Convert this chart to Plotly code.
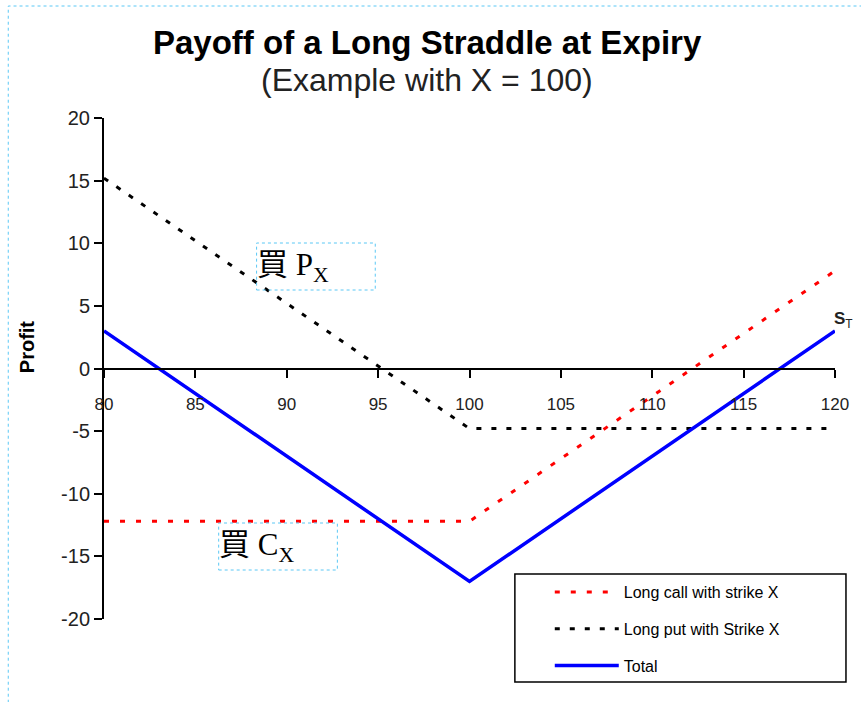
import plotly.graph_objects as go

# Data (key points of each piecewise-linear payoff)
stock_price = [80, 100, 120]
long_call = [-12.2, -12.2, 7.8]
long_put = [15.2, -4.8, -4.8]
total = [3.0, -17.0, 3.0]

x_ticks = [80, 85, 90, 95, 100, 105, 110, 115, 120]
y_ticks = [-20, -15, -10, -5, 0, 5, 10, 15, 20]

title_text = "Payoff of a Long Straddle at Expiry"
subtitle_text = "(Example with X = 100)"
series_names = ["Long call with strike X", "Long put with Strike X", "Total"]

W, H = 861, 702
L, R, T, B = 104, 837, 118, 619


def px(xp):
    return (xp - L) / (R - L)


def py(yp):
    return (B - yp) / (B - T)


SANS = "Liberation Sans, Arial, sans-serif"
SERIF = "Liberation Serif, Times New Roman, Noto Sans CJK TC, serif"

fig = go.Figure()
fig.add_trace(go.Scatter(
    x=stock_price, y=long_call, mode="lines", name=series_names[0],
    legendgroup="a", line=dict(color="#FF0000", width=3, dash="5px,11px")))
fig.add_trace(go.Scatter(
    x=stock_price, y=long_put, mode="lines", name=series_names[1],
    legendgroup="b", line=dict(color="#000000", width=3, dash="5px,10px")))
fig.add_trace(go.Scatter(
    x=stock_price, y=total, mode="lines", name=series_names[2],
    legendgroup="c", line=dict(color="#0000FF", width=3.5)))

shapes = [
    # outer slide placeholder border
    dict(type="rect", xref="paper", yref="paper",
         x0=px(8), x1=px(875), y0=py(715), y1=py(6),
         line=dict(color="#5BC8F5", width=1, dash="dot"), layer="below"),
    # legend box
    dict(type="rect", xref="paper", yref="paper",
         x0=px(516), x1=px(848), y0=py(682), y1=py(574),
         line=dict(color="#000000", width=1.5)),
    # text boxes
    dict(type="rect", xref="paper", yref="paper",
         x0=px(257), x1=px(376), y0=py(290), y1=py(243),
         line=dict(color="#5BC8F5", width=1, dash="dot")),
    dict(type="rect", xref="paper", yref="paper",
         x0=px(219), x1=px(338), y0=py(570), y1=py(523),
         line=dict(color="#5BC8F5", width=1, dash="dot")),
]

annotations = [
    dict(text="<b>" + title_text + "</b>", xref="paper", yref="paper",
         x=px(428), y=py(42), xanchor="center", yanchor="middle", showarrow=False,
         font=dict(family=SANS, size=33, color="#000000")),
    dict(text=subtitle_text, xref="paper", yref="paper",
         x=px(428), y=py(80), xanchor="center", yanchor="middle", showarrow=False,
         font=dict(family=SANS, size=32, color="#222222")),
    dict(text="<b>Profit</b>", xref="paper", yref="paper",
         x=px(27), y=py(347), xanchor="center", yanchor="middle",
         showarrow=False, textangle=-90,
         font=dict(family=SANS, size=20, color="#000000")),
    dict(text="<b>S</b><sub>T</sub>", xref="x", yref="y",
         x=120, y=3.9, xanchor="left", yanchor="middle", showarrow=False, xshift=-3,
         font=dict(family=SANS, size=17, color="#222222")),
    dict(text="買 P<sub>X</sub>", xref="paper", yref="paper",
         x=px(255), y=py(267), xanchor="left", yanchor="middle", showarrow=False,
         font=dict(family=SERIF, size=31, color="#000000")),
    dict(text="買 C<sub>X</sub>", xref="paper", yref="paper",
         x=px(217), y=py(547), xanchor="left", yanchor="middle", showarrow=False,
         font=dict(family=SERIF, size=31, color="#000000")),
]

fig.update_layout(
    width=W, height=H,
    margin=dict(l=L, r=W - R, t=T, b=H - B),
    paper_bgcolor="white", plot_bgcolor="white",
    showlegend=True,
    legend=dict(x=px(551), y=py(575), xanchor="left", yanchor="top",
                bgcolor="rgba(0,0,0,0)", borderwidth=0, itemwidth=64,
                traceorder="grouped", tracegroupgap=13,
                font=dict(family=SANS, size=16, color="#000000")),
    shapes=shapes, annotations=annotations,
    xaxis=dict(range=[80, 120], tickvals=x_ticks, ticktext=[str(v) for v in x_ticks],
               anchor="free", position=0.5, showline=True, linecolor="#000000",
               linewidth=2, ticks="outside", ticklen=8, tickwidth=2, tickcolor="#000000",
               ticklabelstandoff=12, showgrid=False, zeroline=False,
               tickfont=dict(family=SANS, size=17, color="#222222")),
    yaxis=dict(range=[-20, 20], tickvals=y_ticks, ticktext=[str(v) for v in y_ticks],
               showline=True, linecolor="#000000", linewidth=2, ticks="outside",
               ticklen=8, tickwidth=2, tickcolor="#000000", showgrid=False, zeroline=False,
               tickfont=dict(family=SANS, size=20, color="#222222")),
)

fig.write_html("out.html", config={"displayModeBar": False},
               post_script="document.body.style.margin='0';")
